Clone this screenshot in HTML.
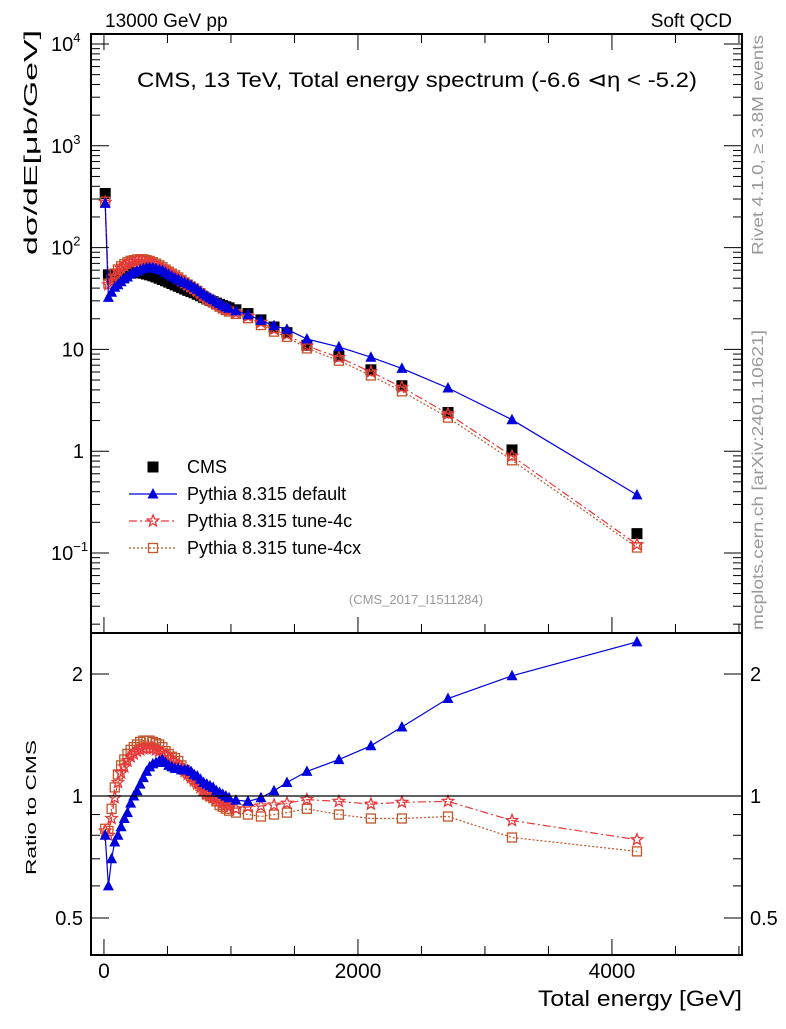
<!DOCTYPE html>
<html><head><meta charset="utf-8"><style>
body{margin:0;background:#fff;}
svg text{font-family:"Liberation Sans",sans-serif;}
</style></head><body>
<svg id="chart" width="786" height="1024" viewBox="0 0 786 1024" xmlns="http://www.w3.org/2000/svg">
<rect width="786" height="1024" fill="#fff"/>
<g id="grid"></g>
<g id="series"></g>
<g id="axes"></g>
<text x="105" y="27" font-size="19">13000 GeV pp</text>
<text x="732" y="27" font-size="19" text-anchor="end">Soft QCD</text>
<text x="137" y="87" font-size="21" textLength="560" lengthAdjust="spacingAndGlyphs">CMS, 13 TeV, Total energy spectrum (-6.6 ⊲η &lt; -5.2)</text>
<text x="416" y="604" font-size="13" fill="#999" text-anchor="middle">(CMS_2017_I1511284)</text>
<text transform="translate(37,255) rotate(-90)" font-size="18" textLength="225" lengthAdjust="spacingAndGlyphs">dσ/dE[μb/GeV]</text>
<text transform="translate(36,875) rotate(-90)" font-size="15" textLength="135" lengthAdjust="spacingAndGlyphs">Ratio to CMS</text>
<text x="538" y="1006" font-size="22" textLength="204" lengthAdjust="spacingAndGlyphs">Total energy [GeV]</text>
<text transform="translate(763,255) rotate(-90)" font-size="16" fill="#999" textLength="220" lengthAdjust="spacingAndGlyphs">Rivet 4.1.0, ≥ 3.8M events</text>
<text transform="translate(763,630) rotate(-90)" font-size="16" fill="#999" textLength="300" lengthAdjust="spacingAndGlyphs">mcplots.cern.ch [arXiv:2401.10621]</text>
<g id="legend"></g>
</svg>
<script>
const energies=[10,35,60,85,110,135,160,185,210,235,260,285,310,335,360,385,410,435,460,485,510,535,560,585,610,635,660,685,710,735,760,785,810,835,860,885,910,935,960,985,1039,1134,1236,1339,1441,1598,1850,2102,2346,2709,3213,4197];
const cmsValues=[340,54,52,53,54,55,56,56.5,57,57,57,56.5,56,55,54,52.8,51.5,50,48.6,47.2,45.8,44.4,43,41.7,40.4,39.2,38,37,36,34.8,33.6,32.4,31.3,30.3,29.4,28.5,27.7,26.9,26.2,25.6,24.5,22.5,19.5,16.6,14.6,11,8.6,6.3,4.4,2.4,1.03,0.155];
const ratioDefault=[0.80,0.60,0.70,0.77,0.80,0.84,0.88,0.91,0.96,1.00,1.03,1.07,1.11,1.15,1.18,1.20,1.21,1.22,1.23,1.21,1.19,1.18,1.17,1.17,1.16,1.16,1.16,1.15,1.13,1.12,1.10,1.08,1.07,1.06,1.05,1.03,1.02,1.01,1.00,0.99,0.977,0.97,0.99,1.03,1.08,1.15,1.23,1.33,1.48,1.74,1.98,2.4];
const ratioTune4c=[0.82,0.80,0.88,0.99,1.08,1.14,1.18,1.22,1.25,1.27,1.29,1.30,1.31,1.31,1.31,1.31,1.30,1.29,1.28,1.26,1.24,1.22,1.21,1.19,1.17,1.15,1.13,1.11,1.09,1.07,1.05,1.03,1.01,1.00,0.99,0.98,0.97,0.96,0.95,0.94,0.93,0.94,0.945,0.95,0.96,0.98,0.97,0.955,0.965,0.97,0.87,0.78];
const ratioTune4cx=[0.83,0.82,0.93,1.05,1.13,1.19,1.23,1.27,1.30,1.32,1.34,1.36,1.37,1.37,1.37,1.36,1.35,1.34,1.32,1.29,1.27,1.25,1.24,1.22,1.19,1.16,1.14,1.12,1.10,1.08,1.06,1.03,1.01,1.00,0.99,0.97,0.95,0.94,0.93,0.92,0.91,0.9,0.89,0.9,0.91,0.93,0.9,0.88,0.88,0.89,0.79,0.73];
const xTicks=[0,2000,4000];
const yTicksExp=[-1,0,1,2,3,4];
const ratioTicks=[0.5,1,2];

const NS="http://www.w3.org/2000/svg";
const L=91,R=742,T=34,M=633,B=955;
const xMin=-102,xMax=5024;
function xs(v){return L+(v-xMin)/(xMax-xMin)*(R-L);}
function ys(v){return 44+(4-Math.log10(v))*101.8;}
function yr(v){return 796-Math.log2(v)*122;}
function mk(tag,attrs,parent){const e=document.createElementNS(NS,tag);for(const k in attrs)e.setAttribute(k,attrs[k]);parent.appendChild(e);return e;}
const axes=document.getElementById('axes'),series=document.getElementById('series'),legend=document.getElementById('legend');

let f1=mk('rect',{x:L,y:T,width:R-L,height:M-T,fill:'none',stroke:'#000','stroke-width':2},axes);


let f2=mk('rect',{x:L,y:M,width:R-L,height:B-M,fill:'none',stroke:'#000','stroke-width':2},axes);


let one=mk('line',{x1:L,x2:R,y1:yr(1),y2:yr(1),stroke:'#000','stroke-width':1.3},axes);



for(let v=0;v<=5000;v+=500){
  const major=v%2000===0;const len=major?16:9;const x=xs(v);
  for(const yb of [M,B]){mk('line',{x1:x,x2:x,y1:yb,y2:yb-len,stroke:'#000','stroke-width':1},axes);}
  mk('line',{x1:x,x2:x,y1:T,y2:T+len,stroke:'#000','stroke-width':1},axes);
}
xTicks.forEach(v=>{const t=mk('text',{x:xs(v),y:978,'font-size':21,'text-anchor':'middle'},axes);t.textContent=v;

});

for(let e=-2;e<=4;e++){for(let m=1;m<=9;m++){const v=m*Math.pow(10,e);const y=ys(v);if(y<T||y>M)continue;const len=m===1?18:9;
mk('line',{x1:L,x2:L+len,y1:y,y2:y,stroke:'#000','stroke-width':1},axes);mk('line',{x1:R,x2:R-len,y1:y,y2:y,stroke:'#000','stroke-width':1},axes);}}
yTicksExp.forEach(e=>{const y=ys(Math.pow(10,e));const plain=(e===0||e===1);
const t=mk('text',{x:plain?84:51,y:y+7,'font-size':20,'text-anchor':plain?'end':'start'},axes);


if(e===0)t.textContent='1';else if(e===1)t.textContent='10';else{t.textContent='10';const s=mk('tspan',{dy:-9,'font-size':13},t);s.textContent=(e<0?'−':'')+Math.abs(e);}});

[0.5,0.6,0.7,0.8,0.9,1,2].forEach(v=>{const y=yr(v);const len=(v===0.5||v===1||v===2)?18:9;
mk('line',{x1:L,x2:L+len,y1:y,y2:y,stroke:'#000'},axes);mk('line',{x1:R,x2:R-len,y1:y,y2:y,stroke:'#000'},axes);});
ratioTicks.forEach(v=>{const y=yr(v)+7;
const t=mk('text',{x:83,y:y,'font-size':20,'text-anchor':'end'},axes);t.textContent=v;


const t2=mk('text',{x:750,y:y,'font-size':20},axes);t2.textContent=v;

});

function marker(type,x,y,parent){
  if(type==='sq')return mk('rect',{x:x-5.5,y:y-5.5,width:11,height:11,fill:'#000'},parent);
  if(type==='tri')return mk('polygon',{points:`${x},${y-6} ${x-5.5},${y+4.5} ${x+5.5},${y+4.5}`,fill:'#0000dd'},parent);
  if(type==='star'){let p=[];for(let i=0;i<10;i++){const r=i%2?2.6:6;const a=-Math.PI/2+i*Math.PI/5;p.push((x+r*Math.cos(a)).toFixed(1)+','+(y+r*Math.sin(a)).toFixed(1));}
    return mk('polygon',{points:p.join(' '),fill:'none',stroke:'#e8383b','stroke-width':1.3},parent);}
  return mk('rect',{x:x-4.5,y:y-4.5,width:9,height:9,fill:'none',stroke:'#c0562a','stroke-width':1.3},parent);
}
const mcs=[
 {name:'default',r:ratioDefault,col:'#0000dd',dash:'',m:'tri'},
 {name:'tune-4c',r:ratioTune4c,col:'#e8383b',dash:'8,3,2,3',m:'star'},
 {name:'tune-4cx',r:ratioTune4cx,col:'#c0562a',dash:'2,2',m:'box'}];
const gc=mk('g',{},series);


energies.forEach((e,i)=>{const s=marker('sq',xs(e),ys(cmsValues[i]),gc);

});
mcs.slice().reverse().forEach(s=>{
  const g=mk('g',{},series);
  
  
  const pTop=energies.map((e,i)=>xs(e).toFixed(1)+','+ys(cmsValues[i]*s.r[i]).toFixed(1)).join(' ');
  const pRat=energies.map((e,i)=>xs(e).toFixed(1)+','+yr(s.r[i]).toFixed(1)).join(' ');
  for(const pts of [pTop,pRat]){const l=mk('polyline',{points:pts,fill:'none',stroke:s.col,'stroke-width':1.2,'stroke-dasharray':s.dash},g);
  
  }
  energies.forEach((e,i)=>{const a=marker(s.m,xs(e),ys(cmsValues[i]*s.r[i]),g);
  
  
  const b=marker(s.m,xs(e),yr(s.r[i]),g);
  
  });
});

const legRows=[['CMS','sq','',''],['Pythia 8.315 default','tri','#0000dd',''],['Pythia 8.315 tune-4c','star','#e8383b','8,3,2,3'],['Pythia 8.315 tune-4cx','box','#c0562a','2,2']];
legRows.forEach((r,i)=>{const y=467+i*27;
  const g=mk('g',{},legend);
  
  
  if(r[2])mk('line',{x1:129,x2:177,y1:y,y2:y,stroke:r[2],'stroke-width':1.2,'stroke-dasharray':r[3]},g);
  marker(r[1],153,y,g);
  const t=mk('text',{x:187,y:y+6,'font-size':18},g);t.textContent=r[0];});
</script>
</body></html>
